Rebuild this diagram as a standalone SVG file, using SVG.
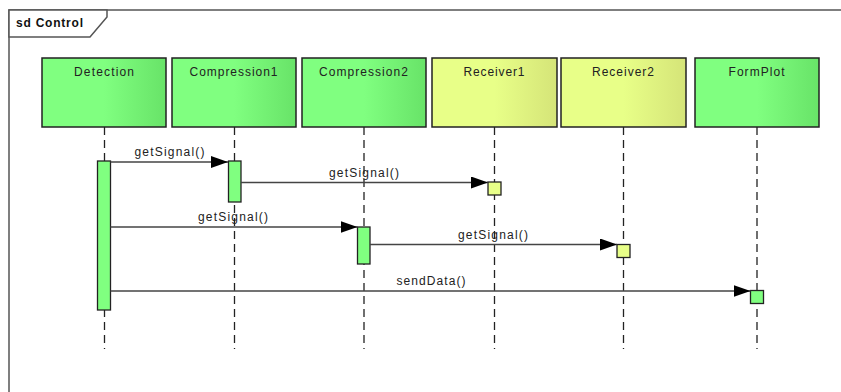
<svg xmlns="http://www.w3.org/2000/svg" width="841" height="392" viewBox="0 0 841 392">
  <defs>
    <linearGradient id="gGreen" x1="0" y1="0" x2="1" y2="0">
      <stop offset="0" stop-color="#80ff80"/>
      <stop offset="0.5" stop-color="#80ff80"/>
      <stop offset="1" stop-color="#68e368"/>
    </linearGradient>
    <linearGradient id="gYellow" x1="0" y1="0" x2="1" y2="0">
      <stop offset="0" stop-color="#e8ff88"/>
      <stop offset="0.5" stop-color="#e8ff88"/>
      <stop offset="1" stop-color="#d5e478"/>
    </linearGradient>
    <marker id="arrow" viewBox="0 0 17 12" refX="17" refY="6" markerWidth="17" markerHeight="12" markerUnits="userSpaceOnUse" orient="auto">
      <path d="M0,0 L17,6 L0,12 Z" fill="#000"/>
    </marker>
    <style>
      .frame { fill: none; stroke: #555; stroke-width: 1.5; }
      .head { fill: #fff; stroke: #555; stroke-width: 1.5; }
      .title { font-family: "Liberation Sans", Arial, sans-serif; font-size: 12px; font-weight: bold; fill: #111; }
      .box-g { fill: url(#gGreen); stroke: #222; stroke-width: 1.5; }
      .box-y { fill: url(#gYellow); stroke: #222; stroke-width: 1.5; }
      .name { font-family: "Liberation Sans", Arial, sans-serif; font-size: 12px; fill: #222; text-anchor: middle; }
      .life { stroke: #222; stroke-width: 1.3; stroke-dasharray: 8 5; fill: none; }
      .act-g { fill: #80ff80; stroke: #222; stroke-width: 1.3; }
      .act-y { fill: #e8ff88; stroke: #222; stroke-width: 1.3; }
      .msg { stroke: #444; stroke-width: 1.5; fill: none; marker-end: url(#arrow); }
      .lbl { font-family: "Liberation Sans", Arial, sans-serif; font-size: 12px; fill: #222; text-anchor: middle; }
    </style>
  </defs>

  <rect width="841" height="392" fill="#fff"/>

  <!-- frame -->
  <g id="frame">
    <path class="frame" d="M9,400 L9,10 L850,10"/>
    <path class="head" d="M9,10 L107,10 L107,17 L90,37 L9,37 Z"/>
    <text class="title" x="16" y="27" textLength="67" lengthAdjust="spacing">sd Control</text>
  </g>

  <!-- lifelines -->
  <g id="lifelines">
    <line class="life" x1="104.5" y1="127" x2="104.5" y2="349"/>
    <line class="life" x1="234.5" y1="127" x2="234.5" y2="349"/>
    <line class="life" x1="364" y1="127" x2="364" y2="349"/>
    <line class="life" x1="494.5" y1="127" x2="494.5" y2="349"/>
    <line class="life" x1="623.5" y1="127" x2="623.5" y2="349"/>
    <line class="life" x1="757" y1="127" x2="757" y2="349"/>
  </g>

  <g id="Detection">
    <rect class="box-g" x="42" y="58" width="124" height="69"/>
    <text class="name" x="104" y="76" textLength="60" lengthAdjust="spacing">Detection</text>
    <rect class="act-g" x="97.5" y="161" width="13" height="149"/>
  </g>
  <g id="Compression1">
    <rect class="box-g" x="172" y="58" width="124" height="69"/>
    <text class="name" x="233.5" y="76" textLength="88" lengthAdjust="spacing">Compression1</text>
    <rect class="act-g" x="228.5" y="161" width="12.5" height="41"/>
  </g>
  <g id="Compression2">
    <rect class="box-g" x="302" y="58" width="124" height="69"/>
    <text class="name" x="363.5" y="76" textLength="89" lengthAdjust="spacing">Compression2</text>
    <rect class="act-g" x="357.5" y="227" width="12.5" height="37"/>
  </g>
  <g id="Receiver1">
    <rect class="box-y" x="432" y="58" width="125" height="69"/>
    <text class="name" x="494" y="76" textLength="61" lengthAdjust="spacing">Receiver1</text>
    <rect class="act-y" x="488" y="182" width="13" height="13"/>
  </g>
  <g id="Receiver2">
    <rect class="box-y" x="561" y="58" width="125" height="69"/>
    <text class="name" x="623" y="76" textLength="62" lengthAdjust="spacing">Receiver2</text>
    <rect class="act-y" x="617" y="244.5" width="13" height="13"/>
  </g>
  <g id="FormPlot">
    <rect class="box-g" x="695" y="58" width="124" height="69"/>
    <text class="name" x="756.5" y="76" textLength="56" lengthAdjust="spacing">FormPlot</text>
    <rect class="act-g" x="750.5" y="290.5" width="13" height="13"/>
  </g>

  <!-- messages -->
  <g id="connectors">
    <line class="msg" x1="110.5" y1="162" x2="228" y2="162"/>
    <text class="lbl" x="169.5" y="156" textLength="70" lengthAdjust="spacing">getSignal()</text>

    <line class="msg" x1="241" y1="182.5" x2="488" y2="182.5"/>
    <text class="lbl" x="364" y="177" textLength="70" lengthAdjust="spacing">getSignal()</text>

    <line class="msg" x1="110.5" y1="227" x2="357.5" y2="227"/>
    <text class="lbl" x="233" y="221" textLength="70" lengthAdjust="spacing">getSignal()</text>

    <line class="msg" x1="370" y1="244.5" x2="617" y2="244.5"/>
    <text class="lbl" x="493" y="239" textLength="70" lengthAdjust="spacing">getSignal()</text>

    <line class="msg" x1="110.5" y1="291" x2="750.5" y2="291"/>
    <text class="lbl" x="431" y="285" textLength="69" lengthAdjust="spacing">sendData()</text>
  </g>
</svg>
